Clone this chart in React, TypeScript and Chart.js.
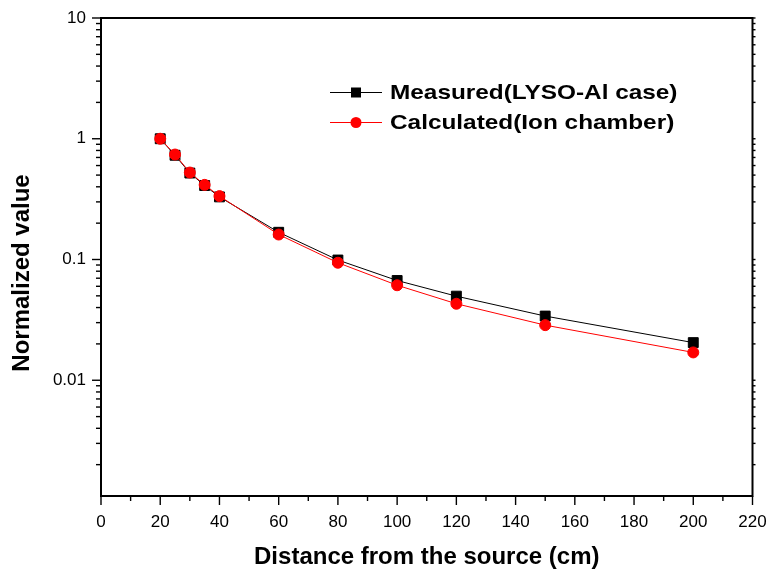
import React, { useEffect, useRef } from 'react';
import { Chart, registerables } from 'chart.js';

Chart.register(...registerables);

// ---- data ----
const DISTANCE_CM = [20, 25, 30, 35, 40, 60, 80, 100, 120, 150, 200];
const MEASURED = [1.0, 0.73, 0.52, 0.41, 0.33, 0.168, 0.099, 0.067, 0.0497, 0.034, 0.0205];
const CALCULATED = [1.0, 0.74, 0.525, 0.415, 0.335, 0.161, 0.094, 0.0612, 0.043, 0.0286, 0.017];
const SERIES_LABELS = ['Measured(LYSO-Al case)', 'Calculated(Ion chamber)'];
const SERIES_COLORS = ['#000000', '#ff0000'];
const X_TICK_LABELS = ['0', '20', '40', '60', '80', '100', '120', '140', '160', '180', '200', '220'];
const Y_TICK_LABELS = ['0.01', '0.1', '1', '10'];
const X_TITLE = 'Distance from the source (cm)';
const Y_TITLE = 'Normalized value';

const FONT = '"Liberation Sans", Arial, Helvetica, sans-serif';

const framePlugin = {
  id: 'frameTicksLegend',
  afterDraw(chart: any) {
    const { ctx, chartArea } = chart;
    const { left, right, top, bottom } = chartArea;
    const xs = chart.scales.x;
    const ys = chart.scales.y;
    ctx.save();
    ctx.strokeStyle = '#000';
    ctx.lineWidth = 1.4;
    const seg = (x1: number, y1: number, x2: number, y2: number) => {
      ctx.beginPath();
      ctx.moveTo(x1, y1);
      ctx.lineTo(x2, y2);
      ctx.stroke();
    };
    // x ticks (major + minor), outward
    for (let v = xs.min; v <= xs.max + 1e-9; v += 10) {
      const px = xs.getPixelForValue(v);
      const len = Math.round(v) % 20 === 0 ? 9 : 5;
      seg(px, bottom, px, bottom + len);
    }
    // y ticks (log decades), left outward, right small
    const e0 = Math.floor(Math.log10(ys.min));
    const e1 = Math.ceil(Math.log10(ys.max));
    for (let e = e0; e <= e1; e++) {
      for (let m = 1; m <= 9; m++) {
        const v = m * Math.pow(10, e);
        if (v < ys.min * 0.999 || v > ys.max * 1.001) continue;
        const py = ys.getPixelForValue(v);
        const len = m === 1 ? 9 : 5;
        seg(left - len, py, left, py);
        seg(right, py, right + 3, py);
      }
    }
    // frame
    ctx.lineWidth = 2;
    ctx.strokeRect(left, top, right - left, bottom - top);

    // y-axis title (placed like the original, slightly below the axis centre)
    ctx.save();
    ctx.translate(22, 273);
    ctx.rotate(-Math.PI / 2);
    ctx.fillStyle = '#000';
    ctx.font = `bold 24px ${FONT}`;
    ctx.textAlign = 'center';
    ctx.textBaseline = 'middle';
    ctx.fillText(Y_TITLE, 0, 0);
    ctx.restore();

    // legend
    const legendX1 = 330;
    const legendX2 = 382;
    const legendYs = [92.5, 122.5];
    chart.data.datasets.forEach((ds: any, i: number) => {
      const y = legendYs[i];
      ctx.strokeStyle = ds.borderColor;
      ctx.lineWidth = 1;
      seg(legendX1, y, legendX2, y);
      ctx.fillStyle = ds.backgroundColor;
      const cx = (legendX1 + legendX2) / 2;
      if (ds.pointStyle === 'rect') {
        ctx.fillRect(cx - 5, y - 5, 10, 10);
      } else {
        ctx.beginPath();
        ctx.arc(cx, y, 5.5, 0, Math.PI * 2);
        ctx.fill();
      }
      ctx.save();
      ctx.translate(390, y);
      ctx.scale(1.16, 1);
      ctx.fillStyle = '#000';
      ctx.font = `bold 21px ${FONT}`;
      ctx.textAlign = 'left';
      ctx.textBaseline = 'middle';
      ctx.fillText(ds.label, 0, 1);
      ctx.restore();
    });
    ctx.restore();
  },
};

export default function App() {
  const canvasRef = useRef<HTMLCanvasElement | null>(null);

  useEffect(() => {
    const canvas = canvasRef.current;
    if (!canvas) return;
    const chart = new Chart(canvas, {
      type: 'line',
      data: {
        datasets: [
          {
            label: SERIES_LABELS[0],
            data: DISTANCE_CM.map((x, i) => ({ x, y: MEASURED[i] })),
            borderColor: SERIES_COLORS[0],
            backgroundColor: SERIES_COLORS[0],
            pointBackgroundColor: SERIES_COLORS[0],
            pointBorderColor: SERIES_COLORS[0],
            borderWidth: 1,
            pointStyle: 'rect',
            pointRadius: 7,
            pointBorderWidth: 1,
            tension: 0,
            order: 2,
          },
          {
            label: SERIES_LABELS[1],
            data: DISTANCE_CM.map((x, i) => ({ x, y: CALCULATED[i] })),
            borderColor: SERIES_COLORS[1],
            backgroundColor: SERIES_COLORS[1],
            pointBackgroundColor: SERIES_COLORS[1],
            pointBorderColor: SERIES_COLORS[1],
            borderWidth: 1,
            pointStyle: 'circle',
            pointRadius: 5.5,
            pointBorderWidth: 1,
            tension: 0,
            order: 1,
          },
        ],
      },
      options: {
        animation: false,
        responsive: true,
        maintainAspectRatio: false,
        layout: { padding: { top: 18, right: 15.5, left: 0, bottom: 0 } },
        plugins: {
          legend: { display: false },
          tooltip: { enabled: false },
        },
        scales: {
          x: {
            type: 'linear',
            min: 0,
            max: 220,
            grid: { display: false, drawTicks: false },
            border: { display: false },
            ticks: {
              stepSize: 10,
              autoSkip: false,
              maxRotation: 0,
              padding: 16,
              color: '#000',
              font: { family: FONT, size: 17 },
              callback: (v: any) => (X_TICK_LABELS.includes(String(v)) ? String(v) : ''),
            },
            title: {
              display: true,
              text: X_TITLE,
              color: '#000',
              font: { family: FONT, size: 24, weight: 'bold' },
              padding: { top: 0, bottom: 5 },
            },
            afterFit: (scale: any) => {
              scale.height = 81;
              scale.paddingLeft = 0;
              scale.paddingRight = 0;
            },
          },
          y: {
            type: 'logarithmic',
            min: 0.0011,
            max: 10,
            grid: { display: false, drawTicks: false },
            border: { display: false },
            ticks: {
              autoSkip: false,
              padding: 15,
              color: '#000',
              font: { family: FONT, size: 17 },
              callback: (v: any) => {
                const n = Number(v);
                const found = Y_TICK_LABELS.find((l) => Math.abs(parseFloat(l) - n) < n * 1e-6);
                return found ?? '';
              },
            },
            title: { display: false },
            afterFit: (scale: any) => {
              scale.width = 101;
              scale.paddingTop = 0;
              scale.paddingBottom = 0;
            },
          },
        },
      },
      plugins: [framePlugin],
    } as any);
    return () => chart.destroy();
  }, []);

  return (
    <div style={{ position: 'fixed', left: 0, top: 0, width: 768, height: 577, background: '#fff' }}>
      <canvas ref={canvasRef} />
    </div>
  );
}
